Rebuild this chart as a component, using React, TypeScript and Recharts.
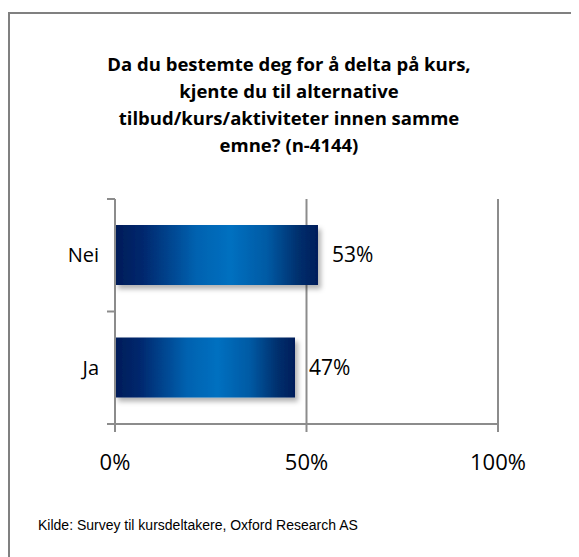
import React from "react";
import { BarChart, Bar, XAxis, YAxis, CartesianGrid, LabelList } from "recharts";

const categories = ["Nei", "Ja"];
const shares = [0.53, 0.47];
const xTicks = [0, 0.5, 1];
const titleLines = [
  "Da du bestemte deg for å delta på kurs,",
  "kjente du til alternative",
  "tilbud/kurs/aktiviteter innen samme",
  "emne? (n-4144)",
];
const source = "Kilde: Survey til kursdeltakere, Oxford Research AS";

const data = categories.map((name, i) => ({ name, value: shares[i] }));

const FONT = "'Open Sans', 'Liberation Sans', sans-serif";
const GRID = "#8c8c8c";
const Y_WIDTH = 80;
const Y_TICK_MARGIN = 16;
const MARGIN = { top: 191, right: 81, bottom: 83, left: 27 };
const PLOT_H = 549 - MARGIN.top - MARGIN.bottom - 50;

const pct = (v: number) => `${Math.round(v * 100)}%`;

const CategoryTick = (props: any) => {
  const { x, y, payload, index, visibleTicksCount } = props;
  const axisX = x + Y_TICK_MARGIN;
  const half = payload?.offset ?? PLOT_H / (categories.length * 2);
  const last = index === (visibleTicksCount ?? categories.length) - 1;
  return (
    <g>
      <line x1={axisX - 8} x2={axisX} y1={y - half} y2={y - half} stroke={GRID} strokeWidth={2} />
      {last && (
        <line x1={axisX - 8} x2={axisX} y1={y + half} y2={y + half} stroke={GRID} strokeWidth={2} />
      )}
      <text x={x} y={y} dy="0.35em" textAnchor="end" fontSize={20} fill="#000" fontFamily={FONT}>
        {payload.value}
      </text>
    </g>
  );
};

export default function App() {
  return (
    <div style={{ position: "relative", width: 571, height: 549, overflow: "hidden", background: "#fff" }}>
      <div
        style={{
          position: "absolute",
          top: 4,
          left: 0,
          width: 700,
          height: 700,
          borderTop: "2px solid #808080",
          borderLeft: "2px solid #808080",
        }}
      />
      <div
        style={{
          position: "absolute",
          top: 42,
          left: 0,
          width: 562,
          textAlign: "center",
          fontFamily: FONT,
          fontWeight: 700,
          fontSize: 18.5,
          lineHeight: "27px",
          color: "#000",
        }}
      >
        {titleLines.map((l) => (
          <div key={l}>{l}</div>
        ))}
      </div>
      <div style={{ position: "absolute", left: 0, top: 0 }}>
        <BarChart width={571} height={549} data={data} layout="vertical" margin={MARGIN} barSize={60}>
          <defs>
            <linearGradient id="barFill" x1="0" y1="0" x2="1" y2="0">
              <stop offset="0%" stopColor="#001c58" />
              <stop offset="14%" stopColor="#00286e" />
              <stop offset="40%" stopColor="#0062b0" />
              <stop offset="57%" stopColor="#0070c0" />
              <stop offset="75%" stopColor="#005aa4" />
              <stop offset="90%" stopColor="#00306e" />
              <stop offset="100%" stopColor="#001d5a" />
            </linearGradient>
            <filter id="shadow" x="-10%" y="-20%" width="130%" height="150%">
              <feDropShadow dx={3} dy={4} stdDeviation={2.5} floodColor="#000" floodOpacity={0.3} />
            </filter>
          </defs>
          <CartesianGrid horizontal={false} stroke={GRID} strokeWidth={2} />
          <XAxis
            type="number"
            domain={[0, 1]}
            ticks={xTicks}
            tickFormatter={pct}
            height={50}
            stroke={GRID}
            strokeWidth={2}
            tickSize={8}
            tickMargin={22}
            tick={{ fill: "#000", fontSize: 22, fontFamily: FONT }}
          />
          <YAxis
            type="category"
            dataKey="name"
            width={Y_WIDTH}
            stroke={GRID}
            strokeWidth={2}
            tickLine={false}
            tickSize={0}
            tickMargin={Y_TICK_MARGIN}
            tick={<CategoryTick />}
          />
          <Bar dataKey="value" fill="url(#barFill)" filter="url(#shadow)" isAnimationActive={false}>
            <LabelList
              dataKey="value"
              position="right"
              offset={14}
              formatter={(v: any) => pct(Number(v))}
              style={{ fontSize: 21, fontFamily: FONT, fill: "#000" }}
            />
          </Bar>
        </BarChart>
      </div>
      <div
        style={{
          position: "absolute",
          left: 30,
          top: 509,
          fontFamily: "'Liberation Sans', Arial, sans-serif",
          fontSize: 14,
          lineHeight: "16px",
          color: "#000",
        }}
      >
        {source}
      </div>
    </div>
  );
}
